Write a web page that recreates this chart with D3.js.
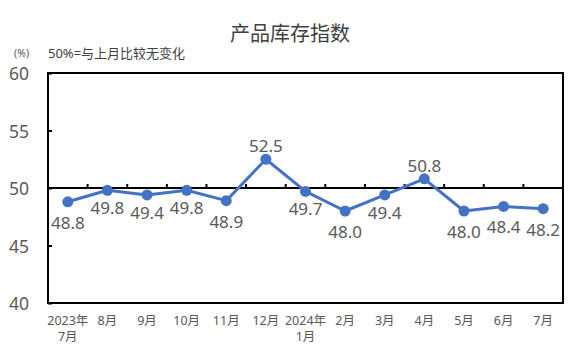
<!DOCTYPE html>
<html><head><meta charset="utf-8">
<script src="https://cdn.jsdelivr.net/npm/d3@7"></script>
<style>
body{margin:0;background:#fff;}
svg{display:block;font-family:"Noto Sans","Noto Sans CJK SC",sans-serif;}
</style></head>
<body><svg id="c" width="583" height="355"></svg>
<script>
const title = "产品库存指数";
const unitLabel = "(%)";
const noteLabel = "50%=与上月比较无变化";
const categories = ["2023年\n7月","8月","9月","10月","11月","12月","2024年\n1月","2月","3月","4月","5月","6月","7月"];
const values = [48.8,49.8,49.4,49.8,48.9,52.5,49.7,48.0,49.4,50.8,48.0,48.4,48.2];
const yTicks = [40,45,50,55,60];
const baseline = 50;

const svg = d3.select("#c");
const L=48,R=563,T=73,B=303;
const x = d3.scaleBand().domain(d3.range(categories.length)).range([L,R]);
const y = d3.scaleLinear().domain([40,60]).range([B,T]);
const gray="#595959", blue="#4472C4";

svg.append("text").attr("x",290).attr("y",41).attr("text-anchor","middle")
  .attr("font-size",20).attr("fill","#404040").text(title);
svg.append("text").attr("x",14).attr("y",57).attr("font-size",10.5).attr("fill",gray).text(unitLabel);
svg.append("text").attr("x",48).attr("y",58).attr("font-size",13).attr("fill","#404040").text(noteLabel);

// y axis ticks (inward)
const ya = svg.append("g").attr("transform",`translate(${L},0)`)
  .call(d3.axisRight(y).tickValues(yTicks).tickSize(4).tickFormat(""));
ya.select(".domain").remove();
ya.selectAll("line").attr("stroke","#000").attr("stroke-width",2);
svg.selectAll(".ylab").data(yTicks).join("text").attr("class","ylab")
  .attr("x",29).attr("y",d=>y(d)+1).attr("dy","0.35em").attr("text-anchor","end")
  .attr("font-size",17.5).attr("fill",gray).text(d=>d);

// baseline with ticks at category boundaries
const bounds = d3.range(1,categories.length);
svg.selectAll(".bt").data(bounds).join("line").attr("class","bt")
  .attr("x1",d=>L+x.step()*d).attr("x2",d=>L+x.step()*d)
  .attr("y1",y(baseline)).attr("y2",y(baseline)-4).attr("stroke","#000").attr("stroke-width",2);
svg.append("line").attr("x1",L).attr("x2",R).attr("y1",y(baseline)).attr("y2",y(baseline))
  .attr("stroke","#000").attr("stroke-width",2);

// border
svg.append("rect").attr("x",L).attr("y",T).attr("width",R-L).attr("height",B-T)
  .attr("fill","none").attr("stroke","#000").attr("stroke-width",2);

// x labels
const xl = svg.selectAll(".xl").data(categories).join("text").attr("class","xl")
  .attr("text-anchor","middle").attr("font-size",12.5).attr("fill",gray);
xl.each(function(d,i){
  const parts=d.split("\n");
  d3.select(this).selectAll("tspan").data(parts).join("tspan")
    .attr("x",x(i)+x.bandwidth()/2).attr("y",(p,j)=>325+j*16).text(p=>p);
});

// line
const cx = i=>x(i)+x.bandwidth()/2;
svg.append("path").datum(values).attr("fill","none").attr("stroke",blue).attr("stroke-width",3)
  .attr("stroke-linejoin","round")
  .attr("d",d3.line().x((d,i)=>cx(i)).y(d=>y(d)));
svg.selectAll(".pt").data(values).join("circle").attr("class","pt")
  .attr("cx",(d,i)=>cx(i)).attr("cy",d=>y(d)).attr("r",5.5).attr("fill",blue);

// data labels
svg.selectAll(".dl").data(values).join("text").attr("class","dl")
  .attr("x",(d,i)=>cx(i)).attr("y",d=>d>baseline? y(d)-13 : y(d)+(d<49?21:18))
  .attr("dy","0.35em").attr("text-anchor","middle").attr("font-size",17).attr("fill",gray)
  .text(d=>d.toFixed(1));
</script></body></html>
